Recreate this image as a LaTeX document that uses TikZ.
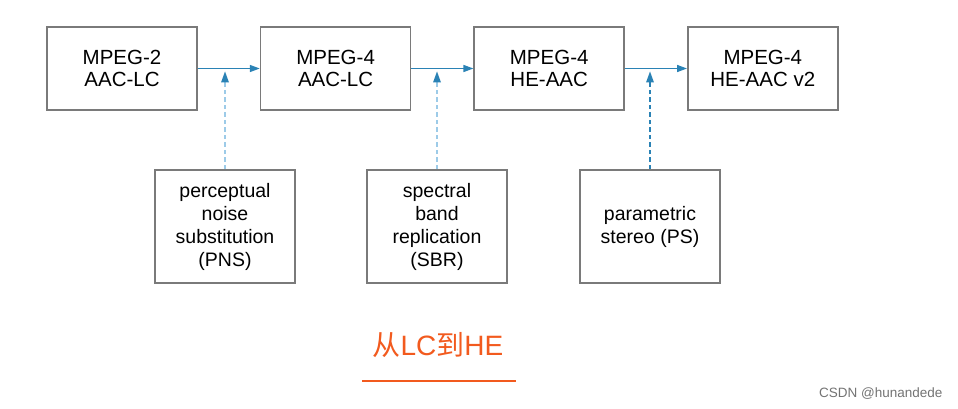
\documentclass[tikz,border=0pt]{standalone}
\usepackage{fontspec}
\setmainfont{Liberation Sans}
\newfontfamily\cjk{Noto Sans CJK SC}
\usetikzlibrary{arrows.meta, positioning}

\definecolor{boxgray}{HTML}{7A7A7A}
\definecolor{flowblue}{HTML}{2A82B5}
\definecolor{paleblue}{HTML}{9DCBE8}
\definecolor{titleorange}{HTML}{F25A1E}

\begin{document}
\begin{tikzpicture}[
  x=1pt, y=-1pt,
  >={Triangle[length=10pt, width=7pt]},
  codec/.style={
    draw=boxgray,
    line width=1.6pt,
    align=center,
    minimum width=150pt,
    minimum height=83pt,
    inner sep=0pt,
    font=\fontsize{20.5}{22}\selectfont
  },
  tool/.style={
    draw=boxgray,
    line width=1.6pt,
    align=center,
    minimum width=140pt,
    minimum height=113pt,
    inner sep=0pt,
    font=\fontsize{19.5}{23}\selectfont
  },
  flow/.style={->, draw=flowblue, fill=flowblue, line width=1.5pt},
  addon/.style={dashed, dash pattern=on 4.5pt off 3pt, line width=1.3pt},
  node distance=62pt
]
\useasboundingbox (0,0) rectangle (958,409);

% Rangee des codecs
\node[codec] (m2lc) at (122,68.5) {MPEG-2\\AAC-LC};
\node[codec, right=of m2lc] (m4lc) {MPEG-4\\AAC-LC};
\node[codec, right=of m4lc] (m4he) {MPEG-4\\HE-AAC};
\node[codec, right=of m4he] (m4v2) {MPEG-4\\HE-AAC v2};

% Outils ajoutes
\node[tool] (pns) at (225,226.5) {perceptual\\noise\\substitution\\(PNS)};
\node[tool] (sbr) at (437,226.5) {spectral\\band\\replication\\(SBR)};
\node[tool] (ps) at (650,226.5) {parametric\\stereo (PS)};

% Points de jonction
\coordinate (j1) at (pns.north |- m2lc.east);
\coordinate (j2) at (sbr.north |- m4lc.east);
\coordinate (j3) at (ps.north |- m4he.east);

% Connexions
\draw[flow] (m2lc) -- (m4lc);
\draw[flow] (m4lc) -- (m4he);
\draw[flow] (m4he) -- (m4v2);

\draw[addon, draw=paleblue] (pns.north) -- ([yshift=-13pt]j1);
\draw[addon, draw=paleblue] (sbr.north) -- ([yshift=-13pt]j2);
\draw[addon, draw=flowblue] (ps.north) -- ([yshift=-13pt]j3);
\fill[flowblue] ([yshift=-3pt]j1) -- ++(-4,11) -- ++(8,0) -- cycle;
\fill[flowblue] ([yshift=-3pt]j2) -- ++(-4,11) -- ++(8,0) -- cycle;
\fill[flowblue] ([yshift=-3pt]j3) -- ++(-4,11) -- ++(8,0) -- cycle;

% Titre
\node[text=titleorange, font=\fontsize{28}{32}\selectfont] (title) at (438,345)
  {{\cjk 从}LC{\cjk 到}HE};
\coordinate (ulA) at (362,381);
\coordinate (ulB) at (516,381);
\draw[titleorange, line width=1.3pt] (ulA) -- (ulB);

\node[text=black!55, font=\fontsize{13.5}{15}\selectfont, anchor=east] (mark) at (946,394) {CSDN @hunandede};
\end{tikzpicture}
\end{document}
